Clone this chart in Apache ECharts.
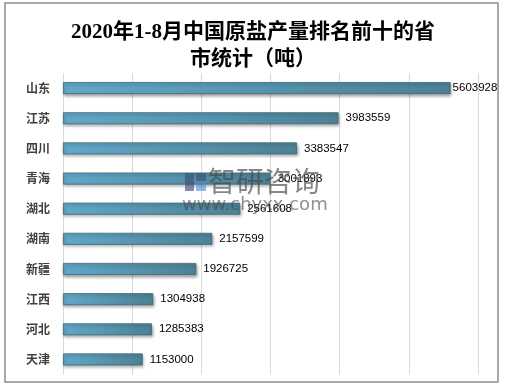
<!DOCTYPE html>
<html><head><meta charset="utf-8">
<script src="https://cdn.jsdelivr.net/npm/echarts@6/dist/echarts.min.js"></script>
<style>html,body{margin:0;padding:0;background:#fff}#c{width:506px;height:387px}</style>
</head><body><div id="c"></div>
<script>
const categories = ['山东','江苏','四川','青海','湖北','湖南','新疆','江西','河北','天津'];
const values = [5603928,3983559,3383547,3001893,2561608,2157599,1926725,1304938,1285383,1153000];
const titleText = '2020年1-8月中国原盐产量排名前十的省\n市统计（吨）';

const chart = echarts.init(document.getElementById('c'));
const barColor = new echarts.graphic.LinearGradient(0,0,1,0,[
  {offset:0,color:'#61a8c8'},{offset:1,color:'#4d8195'}]);
chart.setOption({
  animation:false,
  title:{text:titleText,left:'center',top:14,
    textStyle:{fontFamily:'"Liberation Serif","Noto Sans CJK SC",serif',fontWeight:'bold',fontSize:21,lineHeight:27,color:'#000'}},
  graphic:[
    {type:'rect',shape:{x:5,y:3,width:493,height:379},style:{fill:'none',stroke:'#8c8c8c',lineWidth:1.5},z:-1},
    {type:'rect',x:185,y:173,z:100,shape:{x:0,y:0,width:9,height:18},style:{fill:'rgba(60,80,120,0.65)'}},
    {type:'rect',x:196,y:173,z:100,shape:{x:0,y:0,width:10,height:8},style:{fill:'rgba(60,80,120,0.65)'}},
    {type:'rect',x:196,y:183,z:100,shape:{x:0,y:0,width:10,height:8},style:{fill:'rgba(70,140,210,0.6)'}},
    {type:'text',x:208,y:167,z:100,style:{text:'智研咨询',font:'28px "Noto Sans CJK SC"',fill:'rgba(70,70,70,0.65)'}},
    {type:'text',x:182,y:196,z:100,style:{text:'www.chyxx.com',font:'18px "DejaVu Sans"',fill:'rgba(70,70,70,0.6)'}}
  ],
  grid:{left:63,right:28,top:73,bottom:12.5,containLabel:false},
  xAxis:{type:'value',min:0,max:6000000,interval:1000000,
    axisLabel:{show:false},axisTick:{show:false},axisLine:{show:false},
    splitLine:{show:true,lineStyle:{color:'#d9d9d9',width:1}}},
  yAxis:{type:'category',data:categories,inverse:true,
    axisLine:{show:false},axisTick:{show:false},
    axisLabel:{margin:13,fontSize:12,fontWeight:'bold',color:'#404040',fontFamily:'"Noto Sans CJK SC",sans-serif'}},
  series:[{type:'bar',barWidth:12,
    data:values.map((v,i)=>({value:v,label:{distance:i===0?2:7}})),
    itemStyle:{color:barColor,borderColor:'#3e6a7b',borderWidth:0.8,
      shadowColor:'rgba(0,0,0,0.35)',shadowBlur:3,shadowOffsetX:1,shadowOffsetY:2},
    label:{show:true,position:'right',fontSize:11.5,color:'#000',fontFamily:'"Liberation Sans",Arial,sans-serif'}
  }]
});
</script></body></html>
